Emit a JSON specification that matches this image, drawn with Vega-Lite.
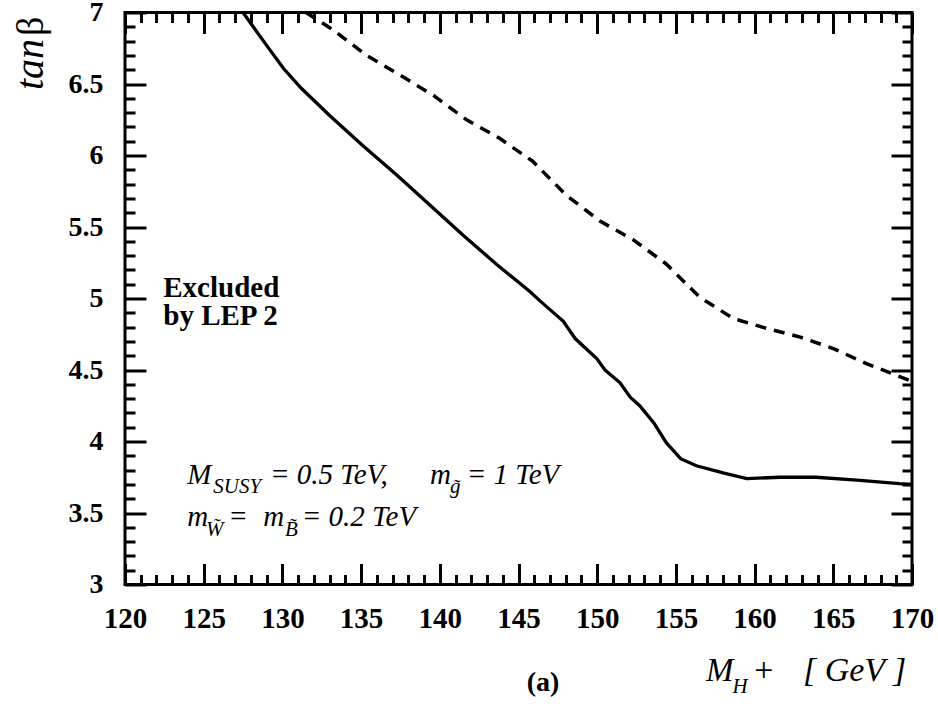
{
  "$schema": "https://vega.github.io/schema/vega-lite/v6.json",
  "description": "Excluded region in the (M_H+, tan beta) plane: solid and dashed limit curves.",
  "width": 787,
  "height": 572,
  "autosize": {"type": "none"},
  "padding": {"left": 125, "top": 12.5, "right": 26, "bottom": 123.5},
  "background": "white",
  "datasets": {
    "solid": [
      {"mass": 127.5, "tanb": 7.0},
      {"mass": 128.8, "tanb": 6.8},
      {"mass": 130.06, "tanb": 6.61},
      {"mass": 131.2, "tanb": 6.47},
      {"mass": 133.0, "tanb": 6.28},
      {"mass": 135.1, "tanb": 6.07},
      {"mass": 137.3, "tanb": 5.86},
      {"mass": 139.4, "tanb": 5.65},
      {"mass": 141.5, "tanb": 5.44},
      {"mass": 143.6, "tanb": 5.24},
      {"mass": 145.7, "tanb": 5.05},
      {"mass": 146.4, "tanb": 4.98},
      {"mass": 147.85, "tanb": 4.84},
      {"mass": 148.6, "tanb": 4.72},
      {"mass": 149.97, "tanb": 4.58},
      {"mass": 150.5, "tanb": 4.5},
      {"mass": 151.45, "tanb": 4.41},
      {"mass": 152.1, "tanb": 4.31},
      {"mass": 152.7, "tanb": 4.25},
      {"mass": 153.6, "tanb": 4.13},
      {"mass": 154.4, "tanb": 3.99},
      {"mass": 155.3, "tanb": 3.88},
      {"mass": 156.3, "tanb": 3.83},
      {"mass": 158.0, "tanb": 3.78},
      {"mass": 159.5, "tanb": 3.74},
      {"mass": 161.6, "tanb": 3.75},
      {"mass": 163.9, "tanb": 3.75},
      {"mass": 166.5, "tanb": 3.73},
      {"mass": 169.2, "tanb": 3.705},
      {"mass": 170.0, "tanb": 3.7}
    ],
    "dashed": [
      {"mass": 131.5, "tanb": 7.0},
      {"mass": 133.2, "tanb": 6.88},
      {"mass": 135.35, "tanb": 6.7},
      {"mass": 137.5, "tanb": 6.56},
      {"mass": 139.6, "tanb": 6.42},
      {"mass": 141.7, "tanb": 6.25},
      {"mass": 143.8, "tanb": 6.12},
      {"mass": 145.9, "tanb": 5.96},
      {"mass": 148.06, "tanb": 5.72},
      {"mass": 150.2, "tanb": 5.54},
      {"mass": 152.3, "tanb": 5.41},
      {"mass": 154.4, "tanb": 5.24},
      {"mass": 156.5, "tanb": 5.01},
      {"mass": 158.65, "tanb": 4.86},
      {"mass": 160.8, "tanb": 4.79},
      {"mass": 162.9, "tanb": 4.73},
      {"mass": 165.0, "tanb": 4.65},
      {"mass": 167.1, "tanb": 4.545},
      {"mass": 170.0, "tanb": 4.42}
    ],
    "notes": [
      {"mass": 123.96, "tanb": 3.701, "label": "M"},
      {"mass": 129.21, "tanb": 3.701, "label": "= 0.5 TeV,"},
      {"mass": 139.38, "tanb": 3.701, "label": "m"},
      {"mass": 141.71, "tanb": 3.701, "label": "= 1 TeV"},
      {"mass": 123.96, "tanb": 3.409, "label": "m"},
      {"mass": 126.56, "tanb": 3.409, "label": "="},
      {"mass": 128.79, "tanb": 3.409, "label": "m"},
      {"mass": 131.23, "tanb": 3.409, "label": "= 0.2 TeV"}
    ],
    "subscripts": [
      {"mass": 125.61, "tanb": 3.638, "label": "SUSY"},
      {"mass": 140.65, "tanb": 3.638, "label": "g\u0303"},
      {"mass": 125.15, "tanb": 3.339, "label": "W\u0303"},
      {"mass": 130.17, "tanb": 3.339, "label": "B\u0303"},
      {"mass": 158.6, "tanb": 2.243, "label": "H"}
    ],
    "xtitle": [
      {"mass": 156.91, "tanb": 2.325, "label": "M"}
    ],
    "unit": [
      {"mass": 159.84, "tanb": 2.325, "label": "+"},
      {"mass": 163.07, "tanb": 2.325, "label": "[ GeV ]"}
    ],
    "region": [
      {"mass": 122.43, "tanb": 5.013, "label": "Excluded"},
      {"mass": 122.43, "tanb": 4.815, "label": "by LEP 2"}
    ],
    "panel": [
      {"mass": 146.56, "tanb": 2.255, "label": "(a)"}
    ],
    "ytitle": [
      {"mass": 114.79, "tanb": 6.458, "label": "tan"}
    ],
    "ybeta": [
      {"mass": 114.79, "tanb": 6.836, "label": "β"}
    ]
  },
  "resolve": {"axis": {"x": "independent", "y": "independent"}},
  "layer": [
    {
      "data": {"name": "solid"},
      "mark": {"type": "line", "color": "black", "strokeWidth": 3.3},
      "encoding": {
        "x": {
          "field": "mass",
          "type": "quantitative",
          "scale": {"domain": [120, 170], "nice": false, "zero": false},
          "axis": {
            "orient": "bottom",
            "title": null,
            "values": [120, 121, 122, 123, 124, 125, 126, 127, 128, 129, 130, 131, 132, 133, 134, 135, 136, 137, 138, 139, 140, 141, 142, 143, 144, 145, 146, 147, 148, 149, 150, 151, 152, 153, 154, 155, 156, 157, 158, 159, 160, 161, 162, 163, 164, 165, 166, 167, 168, 169, 170],
            "tickSize": {"condition": {"test": "datum.value % 5 === 0", "value": -21}, "value": -10},
            "labelExpr": "datum.value % 5 === 0 ? format(datum.value, 'd') : ''",
            "labelPadding": 41,
            "labelFontSize": 29
          }
        },
        "y": {
          "field": "tanb",
          "type": "quantitative",
          "scale": {"domain": [3, 7], "nice": false, "zero": false},
          "axis": {
            "orient": "left",
            "title": null,
            "values": [3, 3.1, 3.2, 3.3, 3.4, 3.5, 3.6, 3.7, 3.8, 3.9, 4, 4.1, 4.2, 4.3, 4.4, 4.5, 4.6, 4.7, 4.8, 4.9, 5, 5.1, 5.2, 5.3, 5.4, 5.5, 5.6, 5.7, 5.8, 5.9, 6, 6.1, 6.2, 6.3, 6.4, 6.5, 6.6, 6.7, 6.8, 6.9, 7],
            "tickSize": {"condition": {"test": "round(datum.value * 10) % 5 === 0", "value": -21}, "value": -10},
            "labelExpr": "round(datum.value * 10) % 5 === 0 ? format(datum.value, '.1~f') : ''",
            "labelPadding": 43,
            "labelFontSize": 28
          }
        }
      }
    },
    {
      "data": {"name": "dashed"},
      "mark": {"type": "line", "color": "black", "strokeWidth": 3.5, "strokeDash": [11, 8]},
      "encoding": {
        "x": {
          "field": "mass",
          "type": "quantitative",
          "scale": {"domain": [120, 170], "nice": false, "zero": false},
          "axis": {
            "orient": "top",
            "title": null,
            "labels": false,
            "values": [120, 121, 122, 123, 124, 125, 126, 127, 128, 129, 130, 131, 132, 133, 134, 135, 136, 137, 138, 139, 140, 141, 142, 143, 144, 145, 146, 147, 148, 149, 150, 151, 152, 153, 154, 155, 156, 157, 158, 159, 160, 161, 162, 163, 164, 165, 166, 167, 168, 169, 170],
            "tickSize": {"condition": {"test": "datum.value % 5 === 0", "value": -21}, "value": -10}
          }
        },
        "y": {
          "field": "tanb",
          "type": "quantitative",
          "scale": {"domain": [3, 7], "nice": false, "zero": false},
          "axis": {
            "orient": "right",
            "title": null,
            "labels": false,
            "values": [3, 3.1, 3.2, 3.3, 3.4, 3.5, 3.6, 3.7, 3.8, 3.9, 4, 4.1, 4.2, 4.3, 4.4, 4.5, 4.6, 4.7, 4.8, 4.9, 5, 5.1, 5.2, 5.3, 5.4, 5.5, 5.6, 5.7, 5.8, 5.9, 6, 6.1, 6.2, 6.3, 6.4, 6.5, 6.6, 6.7, 6.8, 6.9, 7],
            "tickSize": {"condition": {"test": "round(datum.value * 10) % 5 === 0", "value": -21}, "value": -10}
          }
        }
      }
    },
    {
      "data": {"name": "notes"},
      "mark": {"type": "text", "font": "Liberation Serif", "fontStyle": "italic", "fontSize": 29, "align": "left", "baseline": "alphabetic", "color": "black"},
      "encoding": {
        "x": {"field": "mass", "type": "quantitative", "axis": null},
        "y": {"field": "tanb", "type": "quantitative", "axis": null},
        "text": {"field": "label"}
      }
    },
    {
      "data": {"name": "subscripts"},
      "mark": {"type": "text", "font": "Liberation Serif", "fontStyle": "italic", "fontSize": 21, "align": "left", "baseline": "alphabetic", "color": "black"},
      "encoding": {
        "x": {"field": "mass", "type": "quantitative", "axis": null},
        "y": {"field": "tanb", "type": "quantitative", "axis": null},
        "text": {"field": "label"}
      }
    },
    {
      "data": {"name": "xtitle"},
      "mark": {"type": "text", "font": "Liberation Serif", "fontStyle": "italic", "fontSize": 33, "align": "left", "baseline": "alphabetic", "color": "black"},
      "encoding": {
        "x": {"field": "mass", "type": "quantitative", "axis": null},
        "y": {"field": "tanb", "type": "quantitative", "axis": null},
        "text": {"field": "label"}
      }
    },
    {
      "data": {"name": "unit"},
      "mark": {"type": "text", "font": "Liberation Serif", "fontStyle": "italic", "fontSize": 34, "align": "left", "baseline": "alphabetic", "color": "black"},
      "encoding": {
        "x": {"field": "mass", "type": "quantitative", "axis": null},
        "y": {"field": "tanb", "type": "quantitative", "axis": null},
        "text": {"field": "label"}
      }
    },
    {
      "data": {"name": "region"},
      "mark": {"type": "text", "font": "Liberation Serif", "fontWeight": "bold", "fontSize": 29, "align": "left", "baseline": "alphabetic", "color": "black"},
      "encoding": {
        "x": {"field": "mass", "type": "quantitative", "axis": null},
        "y": {"field": "tanb", "type": "quantitative", "axis": null},
        "text": {"field": "label"}
      }
    },
    {
      "data": {"name": "panel"},
      "mark": {"type": "text", "font": "Liberation Serif", "fontWeight": "bold", "fontSize": 28, "align": "center", "baseline": "alphabetic", "color": "black"},
      "encoding": {
        "x": {"field": "mass", "type": "quantitative", "axis": null},
        "y": {"field": "tanb", "type": "quantitative", "axis": null},
        "text": {"field": "label"}
      }
    },
    {
      "data": {"name": "ytitle"},
      "mark": {"type": "text", "font": "Liberation Serif", "fontStyle": "italic", "fontSize": 40, "angle": 270, "align": "left", "baseline": "alphabetic", "color": "black"},
      "encoding": {
        "x": {"field": "mass", "type": "quantitative", "axis": null},
        "y": {"field": "tanb", "type": "quantitative", "axis": null},
        "text": {"field": "label"}
      }
    },
    {
      "data": {"name": "ybeta"},
      "mark": {"type": "text", "font": "Liberation Serif", "fontSize": 38, "angle": 270, "align": "left", "baseline": "alphabetic", "color": "black"},
      "encoding": {
        "x": {"field": "mass", "type": "quantitative", "axis": null},
        "y": {"field": "tanb", "type": "quantitative", "axis": null},
        "text": {"field": "label"}
      }
    }
  ],
  "config": {
    "view": {"stroke": "black", "strokeWidth": 3},
    "axis": {
      "domain": false,
      "grid": false,
      "ticks": true,
      "tickColor": "black",
      "tickWidth": 3,
      "labelFont": "Liberation Serif",
      "labelFontWeight": "bold",
      "labelColor": "black",
      "labelOverlap": false,
      "labelFlush": false,
      "labelBound": false
    }
  }
}
